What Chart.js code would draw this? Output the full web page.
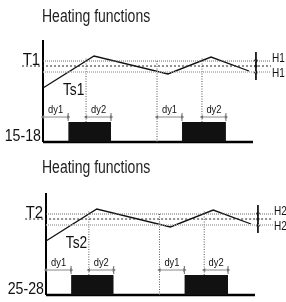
<!DOCTYPE html>
<html>
<head>
<meta charset="utf-8">
<script src="https://cdn.jsdelivr.net/npm/chart.js@4"></script>
<style>
  html, body { margin: 0; padding: 0; background: #fff; }
  #wrap { position: relative; width: 286px; height: 302px; }
  canvas { position: absolute; left: 0; }
</style>
</head>
<body>
<div id="wrap">
  <canvas id="c0" width="286" height="151" style="top:0"></canvas>
  <canvas id="c1" width="286" height="151" style="top:151px"></canvas>
</div>
<script>
// ---- data (schematic time / temperature units) ----
const tsTime = [0, 24.3, 59.5, 80, 98.1];
const tsTemp = [52.9, 84.3, 66.7, 83.3, 69.6];
const heaterOn = [12, 66.2];
const heaterOff = [32.4, 87.1];
const heaterLevel = 19.6;
const upperLimit = 79.4;
const setPoint = 74.5;
const lowerLimit = 68.6;
const bandStart = 0;
const setLineStart = -10;
const bandEnd = 108.6;
const markerTimes = [20.5, 54.3, 75.7];
const markerTops = [82.4, 80.4, 83.3];
const dyStart = [0, 20.5, 54.3, 75.7];
const dyEnd = [12, 32.4, 66.2, 87.1];
const dyLabels = ['dy1', 'dy2', 'dy1', 'dy2'];
const dyLevel = 24.5;
const hystTime = 101.4;
const hystTop = 88.2;
const hystBottom = 60.8;
const titles = ['Heating functions', 'Heating functions'];
const setLabels = ['T1', 'T2'];
const sensorLabels = ['Ts1', 'Ts2'];
const hystLabels = ['H1', 'H2'];
const outputLabels = ['15-18', '25-28'];
const paddings = [
  { left: 43, right: 33, top: 40, bottom: 9 },
  { left: 46, right: 31, top: 42, bottom: 7 }
];

const FONT = '"Liberation Sans", Arial, sans-serif';

function line(points, opts) {
  return Object.assign({
    data: points, showLine: true, pointRadius: 0, borderColor: '#111',
    borderWidth: 1, fill: false, clip: false, tension: 0
  }, opts);
}

function buildDatasets() {
  const ds = [];
  for (let i = 0; i < heaterOn.length; i++) {
    ds.push(line([{ x: heaterOn[i], y: heaterLevel }, { x: heaterOff[i], y: heaterLevel }],
      { fill: 'origin', backgroundColor: '#111', borderWidth: 0 }));
  }
  ds.push(line([{ x: bandStart, y: upperLimit }, { x: bandEnd, y: upperLimit }],
    { borderColor: '#666', borderDash: [1, 1] }));
  ds.push(line([{ x: setLineStart, y: setPoint }, { x: bandEnd, y: setPoint }],
    { borderColor: '#222', borderDash: [2, 2] }));
  ds.push(line([{ x: bandStart, y: lowerLimit }, { x: bandEnd, y: lowerLimit }],
    { borderColor: '#aaa', borderWidth: 1.6, borderDash: [1, 1] }));
  for (let i = 0; i < markerTimes.length; i++) {
    ds.push(line([{ x: markerTimes[i], y: 0 }, { x: markerTimes[i], y: markerTops[i] }],
      { borderColor: '#555', borderDash: [1, 1.5] }));
  }
  for (let i = 0; i < dyStart.length; i++) {
    ds.push(line([{ x: dyStart[i], y: dyLevel }, { x: dyEnd[i], y: dyLevel }],
      { borderColor: '#888', pointRadius: 2.2, pointStyle: 'triangle',
        pointRotation: [-90, 90], pointBackgroundColor: '#777', pointBorderWidth: 0 }));
    ds.push(line([{ x: dyEnd[i], y: dyLevel }], { showLine: false, pointStyle: 'line',
      pointRotation: 90, pointRadius: 4, pointBorderColor: '#666', pointBorderWidth: 1 }));
  }
  ds.push(line(tsTime.map((t, i) => ({ x: t, y: tsTemp[i] })), { borderColor: '#111', borderWidth: 1.3 }));
  ds.push(line([{ x: hystTime, y: hystTop }, { x: hystTime, y: hystBottom }], { borderColor: '#111' }));
  ds.push(line([{ x: hystTime, y: upperLimit }, { x: hystTime, y: lowerLimit }],
    { showLine: false, pointRadius: 2.5, pointStyle: 'triangle', pointRotation: [180, 0],
      pointBackgroundColor: '#111', pointBorderWidth: 0 }));
  ds.push(line([{ x: hystTime, y: setPoint }],
    { showLine: false, pointRadius: 1.6, pointStyle: 'circle', pointBackgroundColor: '#111', pointBorderWidth: 0 }));
  ds.push(line([{ x: 0, y: 0 }, { x: 0, y: 100 }], { borderColor: '#000', borderWidth: 2 }));
  ds.push(line([{ x: 0, y: 0 }, { x: 100, y: 0 }], { borderColor: '#000', borderWidth: 2.5 }));
  return ds;
}

// condensed text: real fillText, squeezed horizontally
function txt(ctx, s, x, y, size, sq, align, baseline) {
  ctx.save();
  ctx.font = size + 'px ' + FONT;
  ctx.textBaseline = baseline || 'alphabetic';
  ctx.textAlign = 'left';
  const w = ctx.measureText(s).width * sq;
  const x0 = align === 'right' ? x - w : align === 'center' ? x - w / 2 : x;
  ctx.translate(x0, y);
  ctx.scale(sq, 1);
  ctx.fillText(s, 0, 0);
  ctx.restore();
}

const labelPlugin = {
  id: 'labels',
  afterDraw(chart) {
    const k = chart.options.plugins.labels.panel;
    const ctx = chart.ctx;
    const xs = chart.scales.x, ys = chart.scales.y;
    const X = v => xs.getPixelForValue(v), Y = v => ys.getPixelForValue(v);
    ctx.save();
    ctx.fillStyle = '#222';
    txt(ctx, titles[k], 42, 22, 17.5, 0.8, 'left');
    ctx.fillStyle = '#111';
    txt(ctx, setLabels[k], X(0) - 3, Y(upperLimit) + 4, 16.5, 0.9, 'right');
    txt(ctx, outputLabels[k], X(0) - 2, Y(0) - 1, 16.5, 0.86, 'right');
    txt(ctx, sensorLabels[k], X(9.5), Y(46), 16, 0.86, 'left');
    txt(ctx, hystLabels[k], X(bandEnd) + 1, Y(upperLimit) - 2.5, 12.5, 0.8, 'left', 'middle');
    txt(ctx, hystLabels[k], X(bandEnd) + 1, Y(lowerLimit) + 2, 12.5, 0.8, 'left', 'middle');
    for (let i = 0; i < dyLabels.length; i++) {
      txt(ctx, dyLabels[i], (X(dyStart[i]) + X(dyEnd[i])) / 2, Y(dyLevel) - 4, 11, 0.85, 'center');
    }
    ctx.restore();
  }
};

function makeChart(id, k) {
  return new Chart(document.getElementById(id), {
    type: 'scatter',
    data: { datasets: buildDatasets() },
    options: {
      responsive: false,
      animation: false,
      events: [],
      layout: { padding: paddings[k] },
      scales: {
        x: { type: 'linear', min: 0, max: 100, display: false },
        y: { type: 'linear', min: 0, max: 100, display: false }
      },
      plugins: { legend: { display: false }, tooltip: { enabled: false }, labels: { panel: k } }
    },
    plugins: [labelPlugin]
  });
}
makeChart('c0', 0);
makeChart('c1', 1);
</script>
</body>
</html>
